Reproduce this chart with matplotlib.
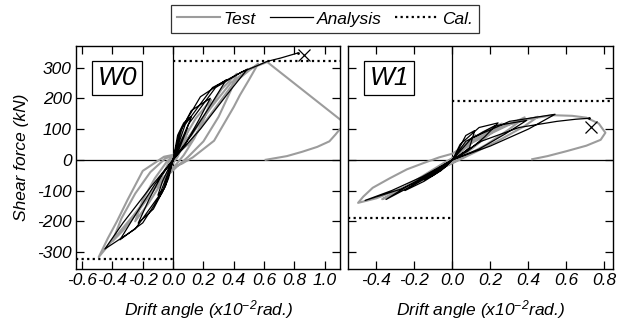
import matplotlib
matplotlib.use('Agg')
import matplotlib.pyplot as plt
from matplotlib.lines import Line2D
from matplotlib.ticker import FormatStrFormatter

plt.rcParams['font.family'] = ['Liberation Sans', 'DejaVu Sans']
plt.rcParams['font.style'] = 'italic'
plt.rcParams['axes.unicode_minus'] = False
plt.rcParams['mathtext.fontset'] = 'custom'
plt.rcParams['mathtext.rm'] = 'Liberation Sans:italic'
plt.rcParams['mathtext.it'] = 'Liberation Sans:italic'

# W0 test (gray), drift angle x1e-2 rad, shear kN
w0_test_x = [0, 0.04, 0.1, 0.07, 0.03, 0, -0.04, -0.1, -0.07, -0.03, 0,
             0.06, 0.15, 0.25, 0.21, 0.14, 0.07, 0.02, -0.07, -0.16, -0.25, -0.2, -0.12, -0.04, 0,
             0.08, 0.2, 0.32, 0.42, 0.38, 0.3, 0.2, 0.1, 0.03, -0.1, -0.22, -0.33, -0.4, -0.34, -0.25, -0.15, -0.05, 0,
             0.1, 0.25, 0.4, 0.5, 0.56, 0.5, 0.44, 0.4, 0.27, 0.13, 0.06, 0, -0.12, -0.26, -0.4, -0.49,
             -0.43, -0.37, -0.3, -0.2, -0.06, 0.02,
             0.12, 0.25, 0.38, 0.5, 0.62, 1.16, 1.1, 1.07, 1.03, 0.95, 0.85, 0.75, 0.61]
w0_test_y = [0, 50, 100, 55, 10, -10, -45, -90, -50, -10, 5,
             60, 135, 195, 140, 70, 15, -15, -70, -140, -200, -130, -60, -5, 10,
             60, 140, 230, 280, 225, 140, 60, 10, -20, -80, -160, -230, -265, -190, -110, -40, 5, 12,
             50, 150, 250, 290, 312, 260, 210, 172, 62, 8, -12, -25, -90, -180, -262, -316,
             -255, -200, -130, -36, 10, 18,
             80, 170, 250, 295, 318, 108, 100, 82, 60, 42, 26, 12, 0]

# W0 analysis (black)
w0_ana_x = [0, 0.03, 0.07, 0.12, 0.08, 0.04, 0, -0.03, -0.06, -0.1, -0.07, -0.03, 0,
            0.04, 0.12, 0.245, 0.17, 0.08, 0, -0.05, -0.13, -0.23, -0.16, -0.07, 0,
            0.06, 0.18, 0.35, 0.25, 0.12, 0, -0.07, -0.2, -0.35, -0.25, -0.12, 0,
            0.08, 0.26, 0.49, 0.36, 0.18, 0, -0.09, -0.25, -0.45, -0.33, -0.15, 0,
            0.1, 0.28, 0.45, 0.55, 0.62, 0.71, 0.82]
w0_ana_y = [0, 80, 120, 140, 85, 35, 0, -60, -95, -115, -70, -28, 0,
            85, 160, 200, 130, 50, 0, -85, -160, -206, -130, -45, 0,
            105, 205, 260, 180, 80, 0, -105, -205, -260, -180, -80, 0,
            115, 235, 295, 215, 100, 0, -115, -225, -290, -205, -90, 0,
            115, 235, 285, 305, 320, 331, 347]
w0_fail = (0.86, 340)
w0_cal = 322

# W1 test (gray)
w1_test_x = [0, 0.05, 0.12, 0.08, 0.03, 0, -0.05, -0.12, -0.08, -0.03, 0,
             0.08, 0.16, 0.26, 0.2, 0.1, 0.03, -0.05, -0.15, -0.26, -0.2, -0.1, -0.02, 0,
             0.1, 0.25, 0.38, 0.3, 0.18, 0.06, -0.05, -0.2, -0.37, -0.28, -0.15, -0.04, 0,
             0.12, 0.28, 0.45, 0.38, 0.25, 0.12, 0.02, -0.1, -0.25, -0.4, -0.497,
             -0.47, -0.42, -0.33, -0.24, -0.15, -0.07, 0,
             0.1, 0.22, 0.35, 0.53, 0.63, 0.705, 0.77, 0.805, 0.78, 0.705, 0.6, 0.5, 0.42]
w1_test_y = [0, 40, 80, 50, 15, 0, -25, -55, -35, -10, 0,
             55, 90, 118, 85, 35, 5, -25, -60, -98, -75, -35, -3, 5,
             55, 100, 138, 100, 50, 10, -25, -80, -128, -100, -50, -8, 5,
             65, 112, 140, 110, 65, 25, -5, -40, -88, -125, -140,
             -120, -91, -60, -31, -10, 8, 20,
             60, 100, 128, 145, 143, 137, 118, 88, 65, 46, 28, 12, 2]

# W1 analysis (black)
w1_ana_x = [0, 0.02, 0.07, 0.117, 0.09, 0.04, 0, -0.04, -0.1, -0.15, -0.1, -0.04, 0,
            0.04, 0.14, 0.24, 0.17, 0.08, 0, -0.06, -0.15, -0.25, -0.18, -0.08, 0,
            0.07, 0.22, 0.39, 0.28, 0.14, 0, -0.08, -0.2, -0.35, -0.25, -0.12, 0,
            0.1, 0.3, 0.54, 0.4, 0.2, 0, -0.1, -0.27, -0.46, -0.32, -0.16, 0,
            0.15, 0.35, 0.55, 0.65, 0.72]
w1_ana_y = [0, 20, 79, 95, 40, 15, 0, -25, -50, -65, -40, -15, 0,
            50, 105, 120, 75, 28, 0, -35, -70, -100, -70, -30, 0,
            60, 110, 128, 85, 35, 0, -40, -80, -129, -90, -45, 0,
            70, 125, 148, 100, 45, 0, -45, -95, -132, -100, -55, 0,
            60, 105, 125, 132, 135]
w1_fail = (0.73, 108)
w1_cal = 190

yticks = [-300, -200, -100, 0, 100, 200, 300]
w0_xticks = [-0.6, -0.4, -0.2, 0.0, 0.2, 0.4, 0.6, 0.8, 1.0]
w1_xticks = [-0.4, -0.2, 0.0, 0.2, 0.4, 0.6, 0.8]

fs = 12.5
fig = plt.figure(figsize=(6.25, 3.29), dpi=100)
ax0 = fig.add_axes([76/625, 1 - 269/329, 264/625, 223/329])
ax1 = fig.add_axes([348/625, 1 - 269/329, 265/625, 223/329])

gray = '#9c9c9c'
panels = [
    (ax0, w0_test_x, w0_test_y, w0_ana_x, w0_ana_y, w0_fail, w0_cal, (-0.64, 1.10), w0_xticks, 'W0'),
    (ax1, w1_test_x, w1_test_y, w1_ana_x, w1_ana_y, w1_fail, w1_cal, (-0.55, 0.845), w1_xticks, 'W1'),
]
for ax, tx, ty, axx, ayy, fail, cal, xl, xt, name in panels:
    ax.axhline(0, color='k', lw=0.9, zorder=1)
    ax.axvline(0, color='k', lw=0.9, zorder=1)
    ax.plot(tx, ty, color=gray, lw=1.5, zorder=2)
    ax.plot(axx, ayy, color='k', lw=0.9, zorder=3)
    ax.plot([axx[-1]], [ayy[-1]], 'k.', ms=2, zorder=3)
    ax.plot(*fail, marker='x', color='k', ms=9, mew=0.9, zorder=4)
    ax.plot([0, xl[1]], [cal, cal], color='k', ls=(0, (1, 1.5)), lw=1.6, zorder=4)
    ax.plot([xl[0], 0], [-cal, -cal], color='k', ls=(0, (1, 1.5)), lw=1.6, zorder=4)
    ax.set_xlim(*xl)
    ax.set_ylim(-355, 370)
    ax.set_xticks(xt)
    ax.set_yticks(yticks)
    ax.xaxis.set_major_formatter(FormatStrFormatter('%.1f'))
    ax.tick_params(direction='in', length=6, width=0.9, top=True, right=True, labelsize=fs, pad=3)
    for s in ax.spines.values():
        s.set_linewidth(1.0)
    ax.set_xlabel('Drift angle (x10$^{-2}$rad.)', fontsize=fs, labelpad=7)
    ax.text(0.081, 0.91, name, transform=ax.transAxes, fontsize=19, va='top', ha='left',
            bbox=dict(boxstyle='square,pad=0.2', fc='white', ec='k', lw=0.9), zorder=5)

ax1.tick_params(labelleft=False)
ax0.set_ylabel('Shear force (kN)', fontsize=fs, labelpad=6)

handles = [Line2D([], [], color=gray, lw=1.5),
           Line2D([], [], color='k', lw=0.9),
           Line2D([], [], color='k', ls=(0, (1, 1.5)), lw=1.6)]
leg = fig.legend(handles, ['Test', 'Analysis', 'Cal.'], loc='center', bbox_to_anchor=(325/625, 1 - 19/329),
                 ncol=3, fontsize=fs, frameon=True, fancybox=False, edgecolor='k', handlelength=2.5,
                 handletextpad=0.2, columnspacing=0.8, borderpad=0.35, borderaxespad=0)
leg.get_frame().set_linewidth(0.9)

fig.savefig('out.png', dpi=100)
